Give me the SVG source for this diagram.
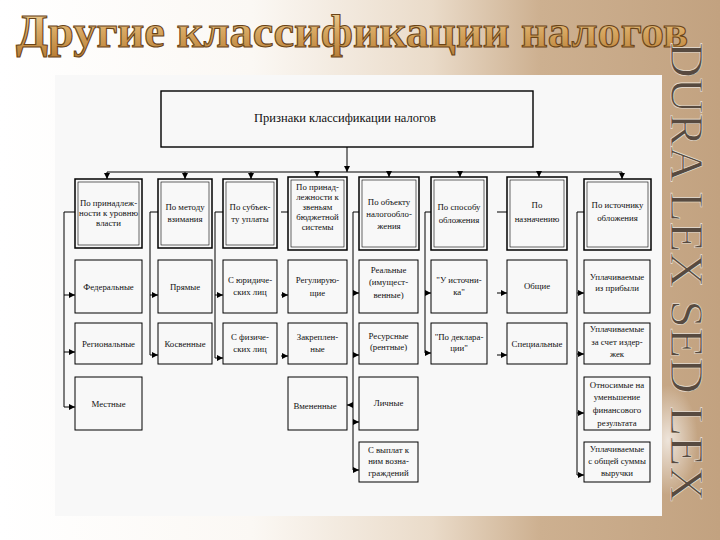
<svg xmlns="http://www.w3.org/2000/svg" width="720" height="540" viewBox="0 0 720 540">
<defs>
<linearGradient id="bg" x1="0" y1="0" x2="1" y2="0">
<stop offset="0" stop-color="#ffffff"/>
<stop offset="0.35" stop-color="#fbf8f4"/>
<stop offset="0.6" stop-color="#eadbc9"/>
<stop offset="0.75" stop-color="#cdb090"/>
<stop offset="1" stop-color="#c2a280"/>
</linearGradient>
<linearGradient id="gold" x1="0" y1="0" x2="0" y2="1">
<stop offset="0" stop-color="#f3dca6"/>
<stop offset="0.5" stop-color="#d8a862"/>
<stop offset="1" stop-color="#b87e36"/>
</linearGradient>
<radialGradient id="glow" cx="0.5" cy="0.5" r="0.5">
<stop offset="0" stop-color="#ffffff" stop-opacity="0.7"/>
<stop offset="1" stop-color="#ffffff" stop-opacity="0"/>
</radialGradient>
<marker id="ah" viewBox="0 0 10 10" refX="10" refY="5" markerWidth="6" markerHeight="6" markerUnits="userSpaceOnUse" orient="auto">
<path d="M0,0 L10,5 L0,10 z" fill="#000"/>
</marker>
<style>
.t{font-family:"Liberation Serif","Times New Roman",serif;font-size:8.8px;fill:#111;text-anchor:middle}
.box{fill:#f8f8f8;stroke:#000;stroke-width:1}
.hout{fill:#f8f8f8;stroke:#000;stroke-width:1.5}
.hin{fill:none;stroke:#000;stroke-width:0.6}
.c{fill:none;stroke:#000;stroke-width:1}
.a{fill:none;stroke:#000;stroke-width:1;marker-end:url(#ah)}
</style>
</defs>
<rect x="0" y="0" width="720" height="540" fill="url(#bg)"/>
<ellipse cx="668" cy="440" rx="30" ry="55" fill="url(#glow)"/>
<rect x="55" y="75" width="607" height="441" fill="#f8f8f8"/>
<text x="16" y="47" font-family="Liberation Serif, serif" font-weight="bold" font-size="47" textLength="672" lengthAdjust="spacingAndGlyphs" fill="url(#gold)" stroke="#6a4418" stroke-width="1.1">Другие классификации налогов</text>
<text transform="translate(671,42) rotate(90)" x="0" y="0" font-family="Liberation Serif, serif" font-size="46" textLength="460" lengthAdjust="spacingAndGlyphs" fill="#574a40" stroke="#f0e6da" stroke-width="0.6">DURA LEX SED LEX</text>

<g id="connectors">
<path class="a" d="M347,147 V172"/>
<path class="c" d="M107,172 H622"/>
<path class="a" d="M107,172 V179"/>
<path class="a" d="M185,172 V179"/>
<path class="a" d="M251,172 V179"/>
<path class="a" d="M317,172 V177"/>
<path class="a" d="M389,172 V177"/>
<path class="a" d="M460,172 V177"/>
<path class="a" d="M539,172 V177"/>
<path class="a" d="M622,172 V179"/>
<path class="c" d="M75,212 H64 V407"/>
<path class="a" d="M64,295 H75"/>
<path class="a" d="M64,352 H75"/>
<path class="a" d="M64,407 H75"/>
<path class="a" d="M112,260 V268"/>
<path class="a" d="M112,323 V331"/>
<path class="a" d="M112,377 V385"/>
<path class="c" d="M158,212 H150 V355"/>
<path class="a" d="M150,295 H158"/>
<path class="a" d="M150,355 H158"/>
<path class="a" d="M184,260 V268"/>
<path class="a" d="M184,323 V331"/>
<path class="c" d="M223,212 H215 V358"/>
<path class="a" d="M215,295 H223"/>
<path class="a" d="M215,358 H223"/>
<path class="c" d="M288,212 H281"/>
<path class="a" d="M281,295 H288"/>
<path class="a" d="M281,356 H288"/>
<path class="c" d="M359,212 H353 V470"/>
<path class="a" d="M353,293 H359"/>
<path class="a" d="M353,355 H359"/>
<path class="a" d="M353,422 H359"/>
<path class="a" d="M353,470 H359"/>
<path class="a" d="M353,405 H347"/>
<path class="c" d="M431,212 H425 V353"/>
<path class="a" d="M425,293 H431"/>
<path class="a" d="M425,353 H431"/>
<path class="c" d="M507,212 H497"/>
<path class="a" d="M497,293 H507"/>
<path class="a" d="M497,355 H507"/>
<path class="c" d="M584,212 H577 V475"/>
<path class="a" d="M577,293 H584"/>
<path class="a" d="M577,354 H584"/>
<path class="a" d="M577,413 H584"/>
<path class="a" d="M577,475 H584"/>
</g>

<g id="root">
<rect x="161" y="91" width="372" height="56" fill="#f8f8f8" stroke="#000" stroke-width="1.4"/>
<text class="t" x="345" y="122" style="font-size:12.5px">Признаки классификации налогов</text>
</g>

<g id="h1"><rect class="hout" x="75" y="179" width="67" height="69"/><rect class="hin" x="78" y="182" width="61" height="63"/>
<text class="t" x="108.5" y="206">По принадлеж-</text><text class="t" x="108.5" y="216">ности к уровню</text><text class="t" x="108.5" y="226">власти</text></g>
<g id="h2"><rect class="hout" x="158" y="179" width="54" height="69"/><rect class="hin" x="161" y="182" width="48" height="63"/>
<text class="t" x="185" y="210">По методу</text><text class="t" x="185" y="222">взимания</text></g>
<g id="h3"><rect class="hout" x="223" y="179" width="54" height="69"/><rect class="hin" x="226" y="182" width="48" height="63"/>
<text class="t" x="250" y="210">По субъек-</text><text class="t" x="250" y="222">ту уплаты</text></g>
<g id="h4"><rect class="hout" x="288" y="177" width="59" height="73"/><rect class="hin" x="291" y="180" width="53" height="67"/>
<text class="t" x="317.5" y="190">По принад-</text><text class="t" x="317.5" y="200">лежности к</text><text class="t" x="317.5" y="210">звеньям</text><text class="t" x="317.5" y="220">бюджетной</text><text class="t" x="317.5" y="230">системы</text></g>
<g id="h5"><rect class="hout" x="359" y="177" width="60" height="73"/><rect class="hin" x="362" y="180" width="54" height="67"/>
<text class="t" x="389" y="205">По объекту</text><text class="t" x="389" y="217">налогообло-</text><text class="t" x="389" y="229">жения</text></g>
<g id="h6"><rect class="hout" x="431" y="177" width="56" height="73"/><rect class="hin" x="434" y="180" width="50" height="67"/>
<text class="t" x="459" y="210">По способу</text><text class="t" x="459" y="223">обложения</text></g>
<g id="h7"><rect class="hout" x="507" y="177" width="60" height="73"/><rect class="hin" x="510" y="180" width="54" height="67"/>
<text class="t" x="537" y="208">По</text><text class="t" x="537" y="222">назначению</text></g>
<g id="h8"><rect class="hout" x="584" y="179" width="67" height="71"/><rect class="hin" x="587" y="182" width="61" height="65"/>
<text class="t" x="617.5" y="208">По источнику</text><text class="t" x="617.5" y="221">обложения</text></g>

<g id="n1a"><rect class="box" x="75" y="260" width="67" height="53"/><text class="t" x="108.5" y="290">Федеральные</text></g>
<g id="n1b"><rect class="box" x="75" y="323" width="67" height="41"/><text class="t" x="108.5" y="347">Региональные</text></g>
<g id="n1c"><rect class="box" x="75" y="377" width="67" height="53"/><text class="t" x="108.5" y="407">Местные</text></g>
<g id="n2a"><rect class="box" x="158" y="260" width="54" height="53"/><text class="t" x="185" y="290">Прямые</text></g>
<g id="n2b"><rect class="box" x="158" y="323" width="54" height="41"/><text class="t" x="185" y="347">Косвенные</text></g>
<g id="n3a"><rect class="box" x="223" y="260" width="54" height="53"/><text class="t" x="250" y="283">С юридиче-</text><text class="t" x="250" y="295">ских лиц</text></g>
<g id="n3b"><rect class="box" x="223" y="323" width="54" height="41"/><text class="t" x="250" y="340">С физиче-</text><text class="t" x="250" y="352">ских лиц</text></g>
<g id="n4a"><rect class="box" x="288" y="260" width="59" height="53"/><text class="t" x="317.5" y="283">Регулирую-</text><text class="t" x="317.5" y="296">щие</text></g>
<g id="n4b"><rect class="box" x="288" y="323" width="59" height="41"/><text class="t" x="317.5" y="340">Закреплен-</text><text class="t" x="317.5" y="352">ные</text></g>
<g id="n4c"><rect class="box" x="288" y="377" width="59" height="53"/><text class="t" x="315" y="409">Вмененные</text></g>
<g id="n5a"><rect class="box" x="359" y="260" width="59" height="53"/><text class="t" x="388.5" y="273">Реальные</text><text class="t" x="388.5" y="285">(имущест-</text><text class="t" x="388.5" y="298">венные)</text></g>
<g id="n5b"><rect class="box" x="359" y="323" width="59" height="41"/><text class="t" x="388.5" y="339">Ресурсные</text><text class="t" x="388.5" y="350">(рентные)</text></g>
<g id="n5c"><rect class="box" x="359" y="377" width="59" height="53"/><text class="t" x="388.5" y="406">Личные</text></g>
<g id="n5d"><rect class="box" x="359" y="442" width="59" height="40"/><text class="t" x="388.5" y="453">С выплат к</text><text class="t" x="388.5" y="464">ним возна-</text><text class="t" x="388.5" y="476">граждений</text></g>
<g id="n6a"><rect class="box" x="431" y="260" width="56" height="53"/><text class="t" x="459" y="283">"У источни-</text><text class="t" x="459" y="295">ка"</text></g>
<g id="n6b"><rect class="box" x="431" y="323" width="56" height="41"/><text class="t" x="459" y="340">"По деклара-</text><text class="t" x="459" y="351">ции"</text></g>
<g id="n7a"><rect class="box" x="507" y="260" width="60" height="53"/><text class="t" x="537" y="289">Общие</text></g>
<g id="n7b"><rect class="box" x="507" y="323" width="60" height="41"/><text class="t" x="537" y="347">Специальные</text></g>
<g id="n8a"><rect class="box" x="584" y="260" width="66" height="53"/><text class="t" x="617" y="280">Уплачиваемые</text><text class="t" x="617" y="291">из прибыли</text></g>
<g id="n8b"><rect class="box" x="584" y="323" width="66" height="41"/><text class="t" x="617" y="332">Уплачиваемые</text><text class="t" x="617" y="345">за счет издер-</text><text class="t" x="617" y="357">жек</text></g>
<g id="n8c"><rect class="box" x="584" y="377" width="66" height="53"/><text class="t" x="617" y="388">Относимые на</text><text class="t" x="617" y="400">уменьшение</text><text class="t" x="617" y="413">финансового</text><text class="t" x="617" y="426">результата</text></g>
<g id="n8d"><rect class="box" x="584" y="442" width="66" height="40"/><text class="t" x="617" y="452">Уплачиваемые</text><text class="t" x="617" y="464">с общей суммы</text><text class="t" x="617" y="476">выручки</text></g>
</svg>
